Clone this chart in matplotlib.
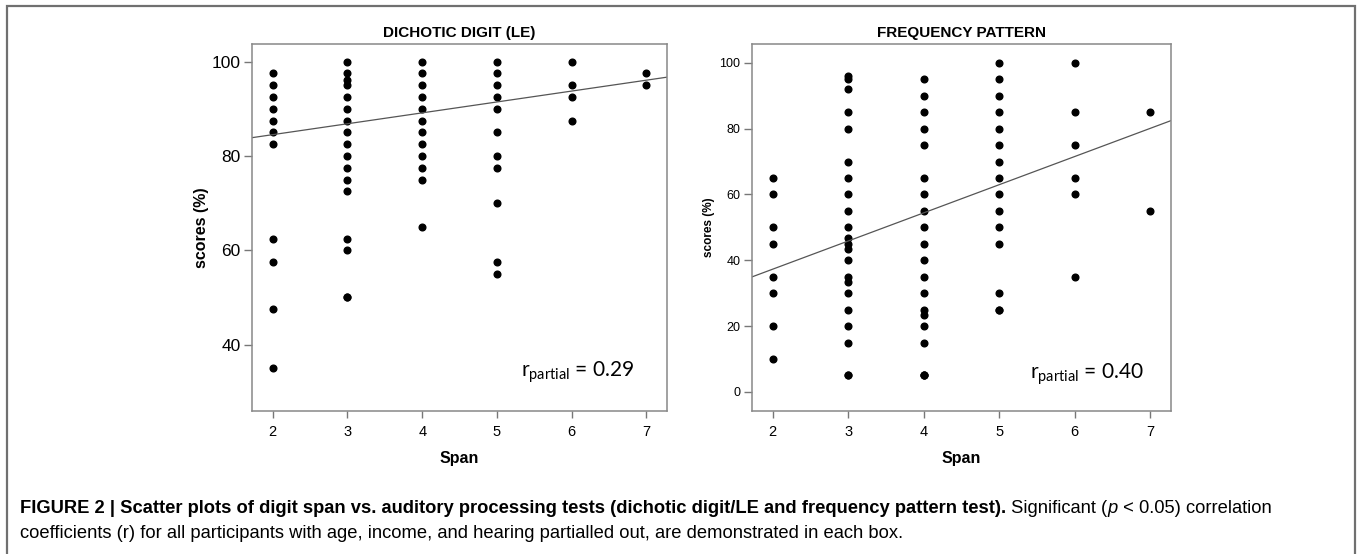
import numpy as np
import matplotlib
matplotlib.use("Agg")
import matplotlib.pyplot as plt
from matplotlib.patches import Rectangle

# ---- data ----
dd_span = [2]*11 + [3]*17 + [4]*12 + [5]*11 + [6]*4 + [7]*2
dd_score = [97.5, 95, 92.5, 90, 87.5, 85, 82.5, 62.5, 57.5, 47.5, 35,
            100, 97.5, 96, 95, 92.5, 90, 87.5, 85, 82.5, 80, 77.5, 75, 72.5, 62.5, 60, 50, 50,
            100, 97.5, 95, 92.5, 90, 87.5, 85, 82.5, 80, 77.5, 75, 65,
            100, 97.5, 95, 92.5, 90, 85, 80, 77.5, 70, 57.5, 55,
            100, 95, 92.5, 87.5,
            97.5, 95]
dd_fit = (79.9, 2.31)   # intercept, slope of the drawn fit line
dd_r = "0.29"

fp_span = [2]*8 + [3]*22 + [4]*20 + [5]*15 + [6]*6 + [7]*2
fp_score = [65, 60, 50, 45, 35, 30, 20, 10,
            96, 95, 92, 85, 80, 70, 65, 60, 55, 50, 46.7, 45, 43.3, 40, 35, 33.3, 30, 25, 20, 15, 5, 5,
            95, 90, 85, 80, 75, 65, 60, 55, 50, 45, 40, 35, 30, 25, 23.3, 20, 15, 5, 5, 5,
            100, 95, 90, 85, 80, 75, 70, 65, 60, 55, 50, 45, 30, 25, 25,
            100, 85, 75, 65, 60, 35,
            85, 55]
fp_fit = (20.2, 8.55)
fp_r = "0.40"

W, H = 1358, 554
plt.rcParams['font.family'] = ['Liberation Sans', 'DejaVu Sans']

fig = plt.figure(figsize=(W/100, H/100), dpi=100)

# outer frame (bottom edge falls outside the picture)
fig.patches.append(Rectangle((7/W, -0.1), (1355-7)/W, 1.1 - 6/H, transform=fig.transFigure,
                             fill=False, ec='#707070', lw=1.6))

def panel(rect, span, score, fit, rtxt, title, ylim, yticks, ysize, ylab_size, rpos):
    ax = fig.add_axes(rect)
    ax.plot(span, score, 'o', ms=4.8, color='black', mec='black')
    xs = np.array([1.72, 7.28])
    ax.plot(xs, fit[0] + fit[1]*xs, color='#555555', lw=0.9)
    ax.set_xlim(1.72, 7.28)
    ax.set_ylim(*ylim)
    ax.set_xticks(range(2, 8))
    ax.set_yticks(yticks)
    ax.tick_params(axis='x', length=5, width=1, color='#777777', labelsize=10.5, pad=5)
    ax.tick_params(axis='y', length=6, width=1, color='#777777', labelsize=ysize, pad=2)
    for s in ax.spines.values():
        s.set_color('#888888')
        s.set_linewidth(1.1)
    ax.set_title(title, fontsize=11, fontweight='bold', pad=5)
    ax.set_xlabel('Span', fontsize=11.5, fontweight='bold', labelpad=9)
    ax.set_ylabel('scores (%)', fontsize=ylab_size, fontweight='bold')
    ax.text(rpos[0], rpos[1], r'r$_{\mathregular{partial}}$ = ' + rtxt, transform=ax.transAxes,
            fontsize=15, family='Lato', va='baseline', ha='left')
    return ax

b = 1 - 410.7/H
h = (410.7 - 43.7)/H
ax1 = panel([251.8/W, b, (667.4-251.8)/W, h], dd_span, dd_score, dd_fit, dd_r,
            'DICHOTIC DIGIT (LE)', (26, 103.8), [40, 60, 80, 100], 12.5, 11.5, (0.648, 0.093))
ax1.yaxis.set_label_coords(-(251.8-209)/415.6, 0.5)
ax2 = panel([751.6/W, b, (1171.1-751.6)/W, h], fp_span, fp_score, fp_fit, fp_r,
            'FREQUENCY PATTERN', (-5.7, 105.8), [0, 20, 40, 60, 80, 100], 9, 8.5, (0.6625, 0.088))
ax2.yaxis.set_label_coords(-(751.6-715)/419.5, 0.5)

# caption, written piece by piece so bold / italic runs sit on one line
fig.canvas.draw()
rend = fig.canvas.get_renderer()

def put_line(x, y, parts, size=13.2):
    for s, kw in parts:
        t = fig.text(x/W, 1 - y/H, s, fontsize=size, va='baseline', **kw)
        x += t.get_window_extent(rend).width

put_line(20, 513, [
    ('FIGURE 2 | Scatter plots of digit span vs. auditory processing tests (dichotic digit/LE and frequency pattern test).', dict(fontweight='bold')),
    (' Significant (', {}),
    ('p', dict(style='italic')),
    (' < 0.05) correlation', {}),
])
put_line(20, 538, [
    ('coefficients (r) for all participants with age, income, and hearing partialled out, are demonstrated in each box.', {}),
])

fig.savefig('out.png', dpi=100)
